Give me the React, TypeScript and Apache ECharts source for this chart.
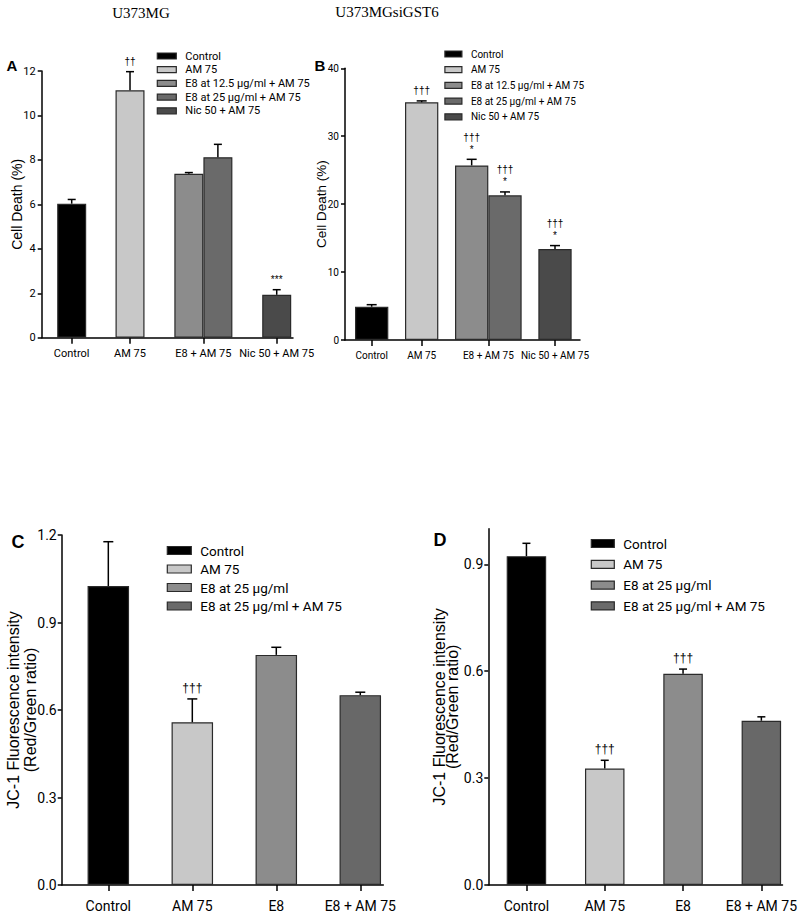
import React, { useEffect, useRef } from "react";
import * as echarts from "echarts";

// ---------- data ----------
const titleLeft = "U373MG";
const titleRight = "U373MGsiGST6";

const abSeriesNames = [
  "Control",
  "AM 75",
  "E8 at 12.5 µg/ml + AM 75",
  "E8 at 25 µg/ml + AM 75",
  "Nic 50 + AM 75",
];
const abCategories = ["Control", "AM 75", "E8 + AM 75", "Nic 50 + AM 75"];

const aMeans = [6.03, 11.13, 7.38, 8.12, 1.93];
const aErrors = [0.19, 0.84, 0.05, 0.58, 0.23];
const aMarks = ["", "††", "", "", "***"];
const aTicks = [0, 2, 4, 6, 8, 10, 12];

const bMeans = [4.9, 35.0, 25.7, 21.3, 13.4];
const bErrors = [0.3, 0.2, 0.9, 0.5, 0.5];
const bMarks = ["", "†††", "†††\n*", "†††\n*", "†††\n*"];
const bTicks = [0, 10, 20, 30, 40];

const cdSeriesNames = ["Control", "AM 75", "E8 at 25 µg/ml", "E8 at 25 µg/ml + AM 75"];
const cdCategories = ["Control", "AM 75", "E8", "E8 + AM 75"];

const cMeans = [1.025, 0.558, 0.789, 0.651];
const cErrors = [0.152, 0.08, 0.026, 0.01];
const cMarks = ["", "†††", "", ""];
const cTicks = [0, 0.3, 0.6, 0.9, 1.2];

const dMeans = [0.923, 0.327, 0.593, 0.461];
const dErrors = [0.036, 0.023, 0.013, 0.011];
const dMarks = ["", "†††", "†††", ""];
const dTicks = [0, 0.3, 0.6, 0.9];

// ---------- styles / layout ----------
const NARROW = "'Liberation Sans Narrow', 'Arial Narrow', Roboto, sans-serif";
const SANS = "'Liberation Sans', Arial, sans-serif";
const abColors = ["#000000", "#c8c8c8", "#8c8c8c", "#6a6a6a", "#4a4a4a"];
const cdColors = ["#000000", "#c8c8c8", "#8c8c8c", "#686868"];

type Panel = {
  names: string[];
  categories: string[];
  colors: string[];
  means: number[];
  errors: number[];
  marks: string[];
  yTicks: number[];
  yMax: number;
  yDecimals: number;
  yName: string;
  nameGap: number;
  nameSize: number;
  nameLineHeight: number;
  grid: { left: number; top: number; width: number; height: number };
  xMin: number;
  xMax: number;
  slots: number[];
  xTicks: number[];
  barWidth: number;
  cap: number;
  tickFont: number;
  yLabelMargin: number;
  xLabelMargin: number;
  markFont: number;
  legend: { left: number; top: number; w: number; h: number; font: number; gap: number };
};

const panels: Panel[] = [
  {
    names: abSeriesNames,
    categories: abCategories,
    colors: abColors,
    means: aMeans,
    errors: aErrors,
    marks: aMarks,
    yTicks: aTicks,
    yMax: 12,
    yDecimals: 0,
    yName: "Cell Death (%)",
    nameGap: 17,
    nameSize: 14,
    nameLineHeight: 15,
    grid: { left: 41.7, top: 71, width: 251.3, height: 266.7 },
    xMin: -0.409,
    xMax: 3.017,
    slots: [0, 0.795, 1.597, 1.993, 2.795],
    xTicks: [0, 0.795, 1.795, 2.795],
    barWidth: 29,
    cap: 4,
    tickFont: 11,
    yLabelMargin: 6,
    xLabelMargin: 10,
    markFont: 10,
    legend: { left: 156.7, top: 50.5, w: 19, h: 6, font: 11, gap: 2.7 },
  },
  {
    names: abSeriesNames,
    categories: abCategories,
    colors: abColors,
    means: bMeans,
    errors: bErrors,
    marks: bMarks,
    yTicks: bTicks,
    yMax: 40,
    yDecimals: 0,
    yName: "Cell Death (%)",
    nameGap: 16,
    nameSize: 13.5,
    nameLineHeight: 14.5,
    grid: { left: 345, top: 68.3, width: 235, height: 271.7 },
    xMin: -0.4,
    xMax: 3.125,
    slots: [0, 0.75, 1.5, 2.0, 2.75],
    xTicks: [0, 0.75, 1.75, 2.75],
    barWidth: 33.3,
    cap: 5,
    tickFont: 10,
    yLabelMargin: 6,
    xLabelMargin: 10,
    markFont: 10,
    legend: { left: 444.3, top: 49, w: 17, h: 6, font: 10, gap: 5.7 },
  },
  {
    names: cdSeriesNames,
    categories: cdCategories,
    colors: cdColors,
    means: cMeans,
    errors: cErrors,
    marks: cMarks,
    yTicks: cTicks,
    yMax: 1.2,
    yDecimals: 1,
    yName: "JC-1 Fluorescence intensity\n(Red/Green ratio)",
    nameGap: 23,
    nameSize: 16,
    nameLineHeight: 17,
    grid: { left: 61.7, top: 535, width: 321.6, height: 350 },
    xMin: -0.555,
    xMax: 3.274,
    slots: [0, 1, 2, 3],
    xTicks: [0, 1, 2, 3],
    barWidth: 41.5,
    cap: 5,
    tickFont: 14,
    yLabelMargin: 5,
    xLabelMargin: 14,
    markFont: 12,
    legend: { left: 166.7, top: 543.5, w: 24, h: 8, font: 13.5, gap: 4.5 },
  },
  {
    names: cdSeriesNames,
    categories: cdCategories,
    colors: cdColors,
    means: dMeans,
    errors: dErrors,
    marks: dMarks,
    yTicks: dTicks,
    yMax: 1.0,
    yDecimals: 1,
    yName: "JC-1 Fluorescence intensity\n(Red/Green ratio)",
    nameGap: 29,
    nameSize: 16,
    nameLineHeight: 13.5,
    grid: { left: 488.3, top: 528.7, width: 298.4, height: 356.3 },
    xMin: -0.487,
    xMax: 3.27,
    slots: [0, 1, 2, 3],
    xTicks: [0, 1, 2, 3],
    barWidth: 39.5,
    cap: 4,
    tickFont: 14,
    yLabelMargin: 5,
    xLabelMargin: 14,
    markFont: 12,
    legend: { left: 590.7, top: 536.5, w: 23, h: 8, font: 13.5, gap: 6.8 },
  },
];

function buildOption() {
  const grid: any[] = [];
  const xAxis: any[] = [];
  const yAxis: any[] = [];
  const series: any[] = [];
  const legend: any[] = [];

  panels.forEach((p, i) => {
    grid.push({ ...p.grid, containLabel: false });
    xAxis.push({
      type: "value",
      gridIndex: i,
      min: p.xMin,
      max: p.xMax,
      splitLine: { show: false },
      axisLine: { show: true, onZero: false, lineStyle: { color: "#000", width: 1.5 } },
      axisTick: {
        show: true,
        inside: false,
        length: 6,
        customValues: p.xTicks,
        lineStyle: { color: "#000", width: 1.5 },
      },
      axisLabel: {
        customValues: p.xTicks,
        margin: p.xLabelMargin,
        color: "#000",
        fontFamily: NARROW,
        fontSize: p.tickFont,
        formatter: (v: number) => {
          const idx = p.xTicks.findIndex((t) => Math.abs(t - v) < 1e-6);
          return idx >= 0 ? p.categories[idx] : "";
        },
      },
    });
    yAxis.push({
      type: "value",
      gridIndex: i,
      min: 0,
      max: p.yMax,
      splitLine: { show: false },
      name: p.yName,
      nameLocation: "middle",
      nameGap: p.nameGap,
      nameMoveOverlap: false,
      nameTextStyle: {
        fontFamily: SANS,
        fontSize: p.nameSize,
        color: "#000",
        lineHeight: p.nameLineHeight,
        align: "center",
      },
      axisLine: { show: true, onZero: false, lineStyle: { color: "#000", width: 1.5 } },
      axisTick: {
        show: true,
        length: 4,
        customValues: p.yTicks,
        lineStyle: { color: "#000", width: 1.5 },
      },
      axisLabel: {
        customValues: p.yTicks,
        color: "#000",
        fontFamily: NARROW,
        fontSize: p.tickFont,
        margin: p.yLabelMargin,
        formatter: (v: number) => v.toFixed(p.yDecimals),
      },
    });

    p.names.forEach((name, k) => {
      series.push({
        type: "bar",
        name,
        xAxisIndex: i,
        yAxisIndex: i,
        barWidth: p.barWidth,
        barGap: "-100%",
        itemStyle: {
          color: p.colors[k],
          borderColor: "#2a2a2a",
          borderWidth: 1.2,
        },
        emphasis: { disabled: true },
        data: [[p.slots[k], p.means[k]]],
      });
    });

    series.push({
      type: "custom",
      xAxisIndex: i,
      yAxisIndex: i,
      z: 5,
      silent: true,
      data: p.means.map((m, k) => [p.slots[k], m, p.errors[k]]),
      renderItem: (params: any, api: any) => {
        const x = api.value(0);
        const m = api.value(1);
        const e = api.value(2);
        const p0 = api.coord([x, m]);
        const p1 = api.coord([x, m + e]);
        const children: any[] = [
          {
            type: "line",
            shape: { x1: p0[0], y1: p0[1], x2: p1[0], y2: p1[1] },
            style: { stroke: "#000", lineWidth: 1.5 },
          },
          {
            type: "line",
            shape: { x1: p1[0] - p.cap, y1: p1[1], x2: p1[0] + p.cap, y2: p1[1] },
            style: { stroke: "#000", lineWidth: 1.5 },
          },
        ];
        const mark = p.marks[params.dataIndex];
        if (mark) {
          children.push({
            type: "text",
            x: p1[0],
            y: p1[1] - 4,
            style: {
              text: mark,
              textAlign: "center",
              textVerticalAlign: "bottom",
              fontSize: p.markFont,
              lineHeight: p.markFont + 2,
              fontFamily: SANS,
              fill: "#000",
            },
          });
        }
        return { type: "group", children };
      },
    });

    legend.push({
      data: p.names,
      orient: "vertical",
      left: p.legend.left,
      top: p.legend.top,
      itemWidth: p.legend.w,
      itemHeight: p.legend.h,
      itemGap: p.legend.gap,
      icon: "rect",
      selectedMode: false,
      padding: 0,
      itemStyle: { borderColor: "#2a2a2a", borderWidth: 1.2 },
      textStyle: {
        fontFamily: NARROW,
        fontSize: p.legend.font,
        lineHeight: p.legend.font,
        color: "#000",
        padding: [0, 0, 0, 4],
      },
    });
  });

  const graphic: any[] = [
    {
      type: "text",
      x: 141,
      y: 13,
      style: {
        text: titleLeft,
        textAlign: "center",
        textVerticalAlign: "middle",
        fontFamily: "'Liberation Serif', 'Times New Roman', serif",
        fontSize: 15,
        fill: "#000",
      },
    },
    {
      type: "text",
      x: 387,
      y: 12,
      style: {
        text: titleRight,
        textAlign: "center",
        textVerticalAlign: "middle",
        fontFamily: "'Liberation Serif', 'Times New Roman', serif",
        fontSize: 15,
        fill: "#000",
      },
    },
  ];
  const letters = [
    { t: "A", x: 12, y: 65, s: 15 },
    { t: "B", x: 320, y: 65, s: 15 },
    { t: "C", x: 18, y: 542, s: 18 },
    { t: "D", x: 440, y: 540, s: 18 },
  ];
  letters.forEach((l) =>
    graphic.push({
      type: "text",
      x: l.x,
      y: l.y,
      style: {
        text: l.t,
        textAlign: "center",
        textVerticalAlign: "middle",
        fontFamily: SANS,
        fontWeight: "bold",
        fontSize: l.s,
        fill: "#000",
      },
    })
  );

  return {
    animation: false,
    backgroundColor: "#ffffff",
    grid,
    xAxis,
    yAxis,
    series,
    legend,
    graphic,
  };
}

export default function App() {
  const ref = useRef<HTMLDivElement>(null);
  useEffect(() => {
    document.body.style.margin = "0";
    if (!ref.current) return;
    const chart = echarts.init(ref.current, undefined, { renderer: "svg" });
    chart.setOption(buildOption() as any);
    return () => chart.dispose();
  }, []);
  return <div ref={ref} style={{ width: 800, height: 919 }} />;
}
